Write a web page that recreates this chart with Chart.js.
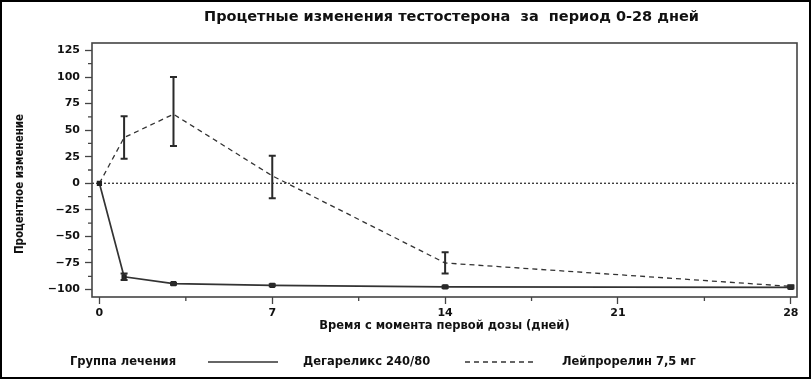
<!DOCTYPE html>
<html>
<head>
<meta charset="utf-8">
<script src="https://cdn.jsdelivr.net/npm/chart.js@4.4.1/dist/chart.umd.min.js"></script>
<style>
  html, body { margin: 0; padding: 0; background: #fff; }
  canvas { display: block; }
</style>
</head>
<body>
<canvas id="myChart" width="812" height="381"></canvas>
<script>
// данные
const days = [0, 1, 3, 7, 14, 28];
const degarelix = [0, -88, -94.5, -96, -97.5, -98];
const degarelixLow = [0, -91, -95.5, -97, -98.5, -99];
const degarelixHigh = [0, -85, -93.5, -95, -96.5, -97];
const leuprolide = [0, 43, 65, 7, -75, -97];
const leuprolideLow = [0, 23, 35, -14, -85, -98];
const leuprolideHigh = [0, 63, 100, 26, -65, -96];
const xTickLabels = [0, 7, 14, 21, 28];
const yTickLabels = [-100, -75, -50, -25, 0, 25, 50, 75, 100, 125];

const ink = '#333';
const boldFont = { family: 'DejaVu Sans', size: 11, weight: 'bold' };

function points(ys) {
    return days.map((d, i) => ({ x: d, y: ys[i] }));
}

const extras = {
    id: 'extras',
    beforeDraw(chart) {
        const ctx = chart.ctx;
        ctx.save();
        ctx.fillStyle = '#fff';
        ctx.fillRect(0, 0, chart.width, chart.height);
        ctx.restore();
    },
    beforeDatasetsDraw(chart) {
        // пунктир на нуле
        const ctx = chart.ctx, a = chart.chartArea;
        const y0 = chart.scales.y.getPixelForValue(0);
        ctx.save();
        ctx.strokeStyle = ink;
        ctx.lineWidth = 1.3;
        ctx.setLineDash([2, 2]);
        ctx.beginPath();
        ctx.moveTo(a.left, y0);
        ctx.lineTo(a.right, y0);
        ctx.stroke();
        ctx.restore();
    },
    afterDatasetsDraw(chart) {
        const ctx = chart.ctx, xs = chart.scales.x, ys = chart.scales.y;
        ctx.save();
        ctx.strokeStyle = '#2a2a2a';
        ctx.lineWidth = 2;
        chart.data.datasets.forEach(ds => {
            days.forEach((d, i) => {
                if (ds.errLow[i] === ds.errHigh[i]) return;
                const x = xs.getPixelForValue(d);
                const yl = ys.getPixelForValue(ds.errLow[i]);
                const yh = ys.getPixelForValue(ds.errHigh[i]);
                ctx.beginPath();
                ctx.moveTo(x, yl); ctx.lineTo(x, yh);
                ctx.moveTo(x - 3.5, yl); ctx.lineTo(x + 3.5, yl);
                ctx.moveTo(x - 3.5, yh); ctx.lineTo(x + 3.5, yh);
                ctx.stroke();
            });
        });
        ctx.restore();
    },
    afterDraw(chart) {
        const ctx = chart.ctx, a = chart.chartArea;
        const xs = chart.scales.x, ys = chart.scales.y;
        ctx.save();
        // рамка графика
        ctx.strokeStyle = '#444';
        ctx.lineWidth = 1.6;
        ctx.strokeRect(a.left, a.top, a.right - a.left, a.bottom - a.top);
        // мелкие засечки
        ctx.lineWidth = 1.3;
        ctx.beginPath();
        for (let i = 0; i < yTickLabels.length - 1; i++) {
            const y = ys.getPixelForValue((yTickLabels[i] + yTickLabels[i + 1]) / 2);
            ctx.moveTo(a.left - 4, y); ctx.lineTo(a.left, y);
        }
        for (let i = 0; i < xTickLabels.length - 1; i++) {
            const x = xs.getPixelForValue((xTickLabels[i] + xTickLabels[i + 1]) / 2);
            ctx.moveTo(x, a.bottom); ctx.lineTo(x, a.bottom + 4);
        }
        ctx.stroke();

        // заголовок
        ctx.fillStyle = '#111';
        ctx.font = 'bold 14.5px "DejaVu Sans"';
        ctx.textAlign = 'center';
        ctx.textBaseline = 'middle';
        ctx.fillText('Процетные изменения тестостерона  за  период 0-28 дней', (a.left + a.right) / 2 + 7, 17);

        // подпись оси Y
        ctx.save();
        ctx.translate(20, 184);
        ctx.rotate(-Math.PI / 2);
        ctx.font = 'bold 11.5px "DejaVu Sans Condensed"';
        ctx.fillText('Процентное изменение', 0, 0);
        ctx.restore();

        // легенда
        const ly = 362;
        ctx.textAlign = 'left';
        ctx.font = 'bold 11.5px "DejaVu Sans"';
        ctx.fillText('Группа лечения', 70, ly);
        const ds = chart.data.datasets;
        ctx.fillText(ds[0].label, 303, ly);
        ctx.fillText(ds[1].label, 562, ly);
        ctx.strokeStyle = ink;
        ctx.lineWidth = 1.6;
        ctx.beginPath(); ctx.moveTo(208, ly); ctx.lineTo(278, ly); ctx.stroke();
        ctx.setLineDash(ds[1].borderDash);
        ctx.beginPath(); ctx.moveTo(465, ly); ctx.lineTo(533, ly); ctx.stroke();
        ctx.setLineDash([]);

        // внешняя рамка
        ctx.strokeStyle = '#000';
        ctx.lineWidth = 2;
        ctx.strokeRect(1, 1, chart.width - 3, chart.height - 4);
        ctx.restore();
    }
};

new Chart(document.getElementById("myChart"), {
    type: 'line',
    data: {
        datasets: [{
            label: 'Дегареликс 240/80',
            data: points(degarelix),
            errLow: degarelixLow,
            errHigh: degarelixHigh,
            borderColor: ink,
            borderWidth: 1.7,
            pointStyle: 'rect',
            pointRadius: 2.5,
            pointBackgroundColor: '#222',
            pointBorderColor: '#222',
            fill: false
        }, {
            label: 'Лейпрорелин 7,5 мг',
            data: points(leuprolide),
            errLow: leuprolideLow,
            errHigh: leuprolideHigh,
            borderColor: ink,
            borderWidth: 1.3,
            borderDash: [5, 4],
            pointRadius: 0,
            fill: false
        }]
    },
    options: {
        responsive: false,
        animation: false,
        layout: { padding: { top: 43, right: 15, bottom: 44, left: 0 } },
        plugins: {
            legend: { display: false },
            title: { display: false },
            tooltip: { enabled: false }
        },
        scales: {
            x: {
                type: 'linear',
                min: -0.3,
                max: 28.25,
                afterBuildTicks: axis => { axis.ticks = xTickLabels.map(v => ({ value: v })); },
                afterFit: axis => { axis.height = 40; },
                border: { display: false },
                grid: { drawOnChartArea: false, tickLength: 7, tickColor: '#444', tickWidth: 1.3 },
                ticks: { font: boldFont, color: '#111', padding: 3, maxRotation: 0 },
                title: {
                    display: true,
                    text: 'Время с момента первой дозы (дней)',
                    font: { family: 'DejaVu Sans', size: 11.5, weight: 'bold' },
                    color: '#111',
                    padding: { top: 0, bottom: 4 }
                }
            },
            y: {
                min: -107,
                max: 132,
                afterBuildTicks: axis => { axis.ticks = yTickLabels.map(v => ({ value: v })); },
                afterFit: axis => { axis.width = 92; },
                border: { display: false },
                grid: { drawOnChartArea: false, tickLength: 7, tickColor: '#444', tickWidth: 1.3 },
                ticks: {
                    font: boldFont,
                    color: '#111',
                    padding: 5,
                    callback: v => String(v).replace('-', '\u2212')
                }
            }
        }
    },
    plugins: [extras]
});
</script>
</body>
</html>
